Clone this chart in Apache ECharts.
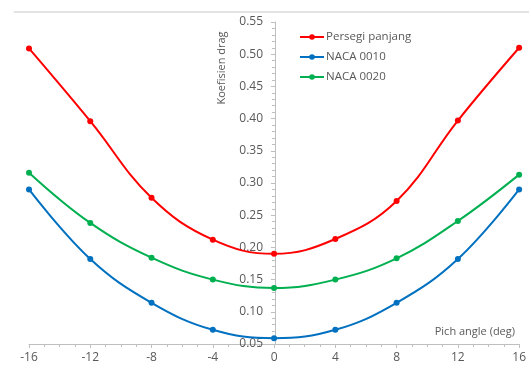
<!DOCTYPE html>
<html>
<head>
<meta charset="utf-8">
<script src="https://cdn.jsdelivr.net/npm/echarts@6/dist/echarts.min.js"></script>
<style>html,body{margin:0;padding:0;background:#fff}#c{width:529px;height:370px}</style>
</head>
<body>
<div id="c"></div>
<script>
var angles = [-16, -12, -8, -4, 0, 4, 8, 12, 16];
var persegiPanjang = [0.509, 0.396, 0.277, 0.212, 0.190, 0.213, 0.272, 0.397, 0.510];
var naca0010 = [0.290, 0.182, 0.114, 0.072, 0.059, 0.072, 0.114, 0.182, 0.290];
var naca0020 = [0.316, 0.238, 0.184, 0.150, 0.137, 0.150, 0.183, 0.241, 0.313];
var seriesNames = ['Persegi panjang', 'NACA 0010', 'NACA 0020'];
var colors = ['#FF0000', '#0070C0', '#00B050'];

function pairs(v){ return angles.map(function(a,i){ return [a, v[i]]; }); }
var font = 'Open Sans, Liberation Sans, sans-serif';
var chart = echarts.init(document.getElementById('c'));
var data = [persegiPanjang, naca0010, naca0020];
chart.setOption({
  animation: false,
  color: colors,
  grid: {left: 29, right: 8, top: 22, bottom: 26, containLabel: false},
  legend: {
    orient: 'vertical', left: 294, top: 26, itemGap: 8,
    itemWidth: 24, itemHeight: 7,
    textStyle: {color: '#595959', fontSize: 11.5, fontFamily: font, padding: [0,0,0,-3]},
    data: seriesNames
  },
  xAxis: {
    type: 'value', min: -16, max: 16, interval: 4,
    axisLine: {onZero: false, lineStyle: {color: '#BFBFBF', width: 1}},
    axisTick: {show: true, length: 4, lineStyle: {color: '#BFBFBF'}},
    minorTick: {show: true, splitNumber: 4, length: 3, lineStyle: {color: '#BFBFBF'}},
    splitLine: {show: false},
    axisLabel: {color: '#595959', fontSize: 12, fontFamily: font, margin: 8}
  },
  yAxis: {
    type: 'value', min: 0.05, max: 0.55, interval: 0.05,
    position: 'left', offset: -246,
    axisLine: {show: true, onZero: false, lineStyle: {color: '#BFBFBF', width: 1}},
    axisTick: {show: true, length: 4, lineStyle: {color: '#BFBFBF'}},
    minorTick: {show: true, splitNumber: 5, length: 3, lineStyle: {color: '#BFBFBF'}},
    splitLine: {show: false},
    axisLabel: {color: '#595959', fontSize: 12, fontFamily: font, margin: 12,
      formatter: function(v){ return v.toFixed(2); }}
  },
  graphic: [
    {type: 'line', shape: {x1: 14, y1: 12, x2: 529, y2: 12}, style: {stroke: '#C8C8C8', lineWidth: 1}},
    {type: 'text', x: 222, y: 68, rotation: Math.PI/2,
      style: {text: 'Koefisien drag', fill: '#595959', font: '11px ' + font, align: 'center', verticalAlign: 'middle'}},
    {type: 'text', x: 515, y: 332,
      style: {text: 'Pich angle (deg)', fill: '#595959', font: '11px ' + font, align: 'right', verticalAlign: 'middle'}}
  ],
  series: seriesNames.map(function(n, i){
    return {
      name: n, type: 'line', smooth: 0.4,
      data: pairs(data[i]),
      symbol: 'circle', symbolSize: 6,
      lineStyle: {width: 2, color: colors[i]},
      itemStyle: {color: colors[i]}
    };
  })
});
</script>
</body>
</html>
